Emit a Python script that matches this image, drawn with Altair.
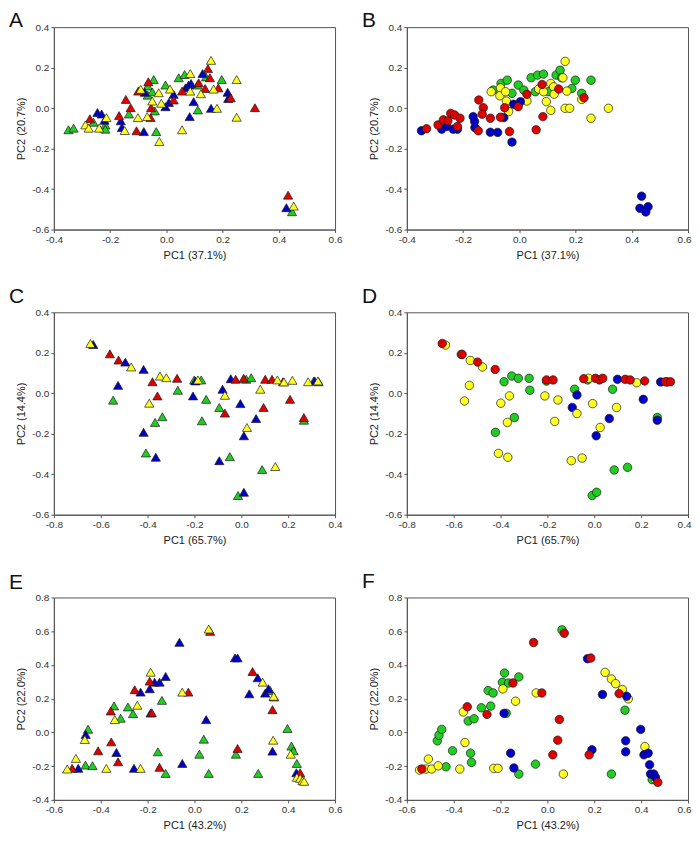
import altair as alt
import pandas as pd

# ---------------- data ----------------
COLOR_NAMES = ["green", "blue", "red", "yellow"]
COLOR_HEX = ["#22cc22", "#0000c8", "#e00000", "#ffff22"]

A_GREEN = [(-0.348,-0.107),(-0.330,-0.099),(-0.259,-0.070),(-0.217,-0.083),(-0.217,-0.104),(-0.133,-0.029),(-0.045,0.141),(-0.066,0.109),(-0.066,0.064),(-0.050,0.080),(-0.041,-0.014),(-0.036,-0.116),(-0.003,0.114),(0.044,0.150),(0.065,0.166),(0.112,-0.009),(0.141,0.154),(0.197,0.141),(0.111,0.114),(0.447,-0.512)]
A_BLUE = [(-0.245,-0.022),(-0.230,-0.029),(-0.220,-0.060),(-0.162,-0.063),(-0.158,-0.096),(-0.080,-0.116),(-0.077,0.078),(-0.003,0.007),(0.009,0.028),(0.026,0.068),(0.068,0.100),(0.079,0.114),(0.088,0.122),(0.097,0.032),(0.083,-0.042),(0.129,0.171),(0.159,-0.001),(0.218,0.078),(0.220,0.048),(0.427,-0.492)]
A_RED = [(-0.272,-0.053),(-0.144,0.043),(-0.127,0.002),(-0.168,-0.037),(-0.106,-0.112),(-0.100,0.084),(-0.064,0.130),(-0.056,-0.047),(-0.054,0.002),(0.026,0.040),(0.056,0.084),(0.115,0.125),(0.148,0.195),(0.138,0.097),(0.155,0.150),(0.185,0.100),(0.229,0.051),(0.315,0.002),(0.433,-0.430)]
A_YELLOW = [(-0.288,-0.083),(-0.276,-0.099),(-0.239,-0.099),(-0.213,-0.047),(-0.148,-0.111),(-0.101,-0.047),(-0.091,0.093),(-0.068,-0.042),(-0.050,0.035),(-0.027,0.076),(-0.018,0.024),(-0.025,-0.165),(0.013,0.094),(0.056,-0.107),(0.085,0.171),(0.085,0.084),(0.123,0.071),(0.159,0.236),(0.168,0.094),(0.180,-0.001),(0.250,0.141),(0.250,-0.045),(0.453,-0.484)]

B_BLUE = [(-0.348,-0.112),(-0.276,-0.104),(-0.258,-0.091),(-0.235,-0.104),(-0.220,-0.104),(-0.164,-0.042),(-0.159,-0.066),(-0.158,-0.096),(-0.103,-0.119),(-0.077,-0.120),(-0.055,-0.047),(-0.026,-0.168),(-0.020,0.019),(0.004,0.032),(0.435,-0.435),(0.429,-0.495),(0.458,-0.487),(0.450,-0.513)]
B_RED = [(-0.330,-0.102),(-0.289,-0.083),(-0.270,-0.058),(-0.254,-0.063),(-0.244,-0.026),(-0.230,-0.034),(-0.211,-0.050),(-0.220,-0.091),(-0.144,0.040),(-0.128,0.002),(-0.132,-0.030),(-0.146,-0.112),(-0.103,-0.050),(-0.067,-0.045),(-0.052,0.002),(-0.035,-0.116),(-0.004,0.007),(0.027,0.068),(0.060,-0.107),(0.084,-0.042),(0.081,0.117),(0.140,0.094),(0.230,0.051)]
B_GREEN = [(-0.093,0.089),(-0.065,0.122),(-0.043,0.138),(-0.026,0.073),(-0.004,0.114),(0.016,0.089),(0.042,0.150),(0.065,0.163),(0.086,0.168),(0.057,0.081),(0.104,0.081),(0.131,0.163),(0.145,0.187),(0.151,0.150),(0.187,0.097),(0.199,0.138),(0.222,0.073),(0.255,0.138)]
B_YELLOW = [(-0.100,0.081),(-0.067,0.100),(-0.069,0.061),(-0.049,0.081),(-0.046,0.035),(-0.038,-0.017),(0.027,0.035),(0.069,0.094),(0.086,0.081),(0.096,0.032),(0.112,-0.011),(0.112,0.122),(0.122,0.105),(0.124,0.069),(0.155,0.150),(0.163,0.231),(0.163,-0.001),(0.169,0.084),(0.179,-0.001),(0.222,0.043),(0.255,-0.050),(0.317,-0.001)]

C_YELLOW = [(-0.644,0.246),(-0.470,0.130),(-0.347,0.085),(-0.320,0.077),(-0.393,-0.049),(-0.185,0.066),(-0.070,-0.010),(0.024,-0.169),(0.081,0.020),(0.154,0.066),(0.182,0.056),(0.218,0.064),(0.145,-0.362),(0.285,0.057),(0.327,0.061)]
C_BLUE = [(-0.632,0.241),(-0.495,0.154),(-0.526,0.039),(-0.417,0.118),(-0.417,-0.193),(-0.365,-0.316),(-0.196,0.061),(-0.206,-0.013),(-0.080,0.020),(-0.004,-0.051),(0.011,-0.210),(0.063,-0.125),(-0.045,0.072),(-0.094,-0.333),(0.011,-0.489),(0.313,0.061)]
C_RED = [(-0.561,0.195),(-0.524,0.164),(-0.379,0.057),(-0.358,-0.013),(-0.274,0.074),(-0.070,-0.098),(-0.024,0.069),(0.010,0.074),(0.102,0.069),(0.131,0.069),(0.178,0.057),(0.208,-0.030),(0.095,-0.070),(0.267,-0.120)]
C_GREEN = [(-0.547,-0.034),(-0.368,-0.144),(-0.337,-0.116),(-0.407,-0.295),(-0.271,0.015),(-0.201,0.066),(-0.171,0.066),(-0.150,-0.030),(-0.168,-0.136),(-0.094,-0.070),(-0.049,-0.313),(-0.014,-0.505),(0.021,0.069),(0.042,0.077),(0.089,-0.377),(0.267,-0.133),(0.309,0.061),(0.330,0.057)]

D_GREEN = [(-0.568,0.192),(-0.385,0.057),(-0.352,0.085),(-0.324,0.074),(-0.278,0.074),(-0.275,0.015),(-0.422,-0.193),(-0.341,-0.120),(-0.084,0.020),(-0.028,0.066),(0.078,0.020),(0.269,-0.120),(-0.009,-0.505),(0.010,-0.489),(0.085,-0.379),(0.142,-0.366),(-0.204,0.060)]
D_BLUE = [(-0.094,-0.070),(-0.074,-0.008),(0.008,-0.210),(0.064,-0.125),(0.099,0.069),(0.209,-0.030),(0.269,-0.133),(0.283,0.056),(0.311,0.056)]
D_YELLOW = [(-0.635,0.238),(-0.529,0.162),(-0.477,0.130),(-0.533,0.039),(-0.554,-0.038),(-0.399,-0.049),(-0.362,-0.013),(-0.371,-0.144),(-0.409,-0.297),(-0.369,-0.316),(-0.211,-0.013),(-0.155,-0.033),(-0.169,-0.139),(-0.074,-0.100),(-0.098,-0.333),(-0.052,-0.320),(-0.024,0.074),(-0.007,-0.051),(0.025,-0.169),(0.095,-0.070),(0.181,0.052)]
D_RED = [(-0.649,0.246),(-0.564,0.192),(-0.498,0.154),(-0.423,0.118),(-0.204,0.066),(-0.176,0.066),(-0.045,0.072),(0.005,0.074),(0.022,0.066),(0.036,0.074),(0.132,0.069),(0.153,0.066),(0.215,0.061),(0.304,0.057),(0.325,0.057)]

E_GREEN = [(-0.465,-0.194),(-0.454,0.019),(-0.435,-0.197),(-0.343,0.157),(-0.315,0.084),(-0.284,0.151),(-0.262,0.111),(-0.139,0.190),(-0.156,-0.115),(-0.123,-0.243),(0.021,-0.129),(0.040,-0.040),(0.061,-0.243),(0.177,-0.129),(0.272,-0.243),(0.323,0.249),(0.397,0.023),(0.414,-0.081),(0.423,-0.109),(0.437,-0.184)]
E_BLUE = [(-0.496,-0.213),(-0.464,-0.012),(-0.333,-0.119),(-0.258,-0.213),(-0.230,0.239),(-0.191,0.259),(-0.187,0.115),(-0.170,0.298),(-0.149,0.298),(-0.123,0.332),(-0.064,0.534),(-0.052,-0.184),(0.050,0.076),(0.173,0.442),(0.184,0.442),(0.234,0.229),(0.270,0.324),(0.302,0.233),(0.316,0.259),(0.333,-0.111),(0.435,-0.239)]
E_RED = [(-0.522,-0.213),(-0.411,-0.109),(-0.355,-0.056),(-0.357,0.127),(-0.326,-0.174),(-0.255,0.253),(-0.191,0.304),(-0.182,0.117),(-0.149,-0.207),(-0.026,0.239),(0.067,0.599),(0.184,-0.095),(0.248,0.361),(0.333,0.135),(0.340,0.210),(0.451,-0.239)]
E_YELLOW = [(-0.543,-0.217),(-0.506,-0.154),(-0.468,-0.042),(-0.376,-0.213),(-0.340,0.076),(-0.244,0.161),(-0.230,-0.213),(-0.187,0.357),(-0.052,0.239),(0.061,0.613),(0.291,0.298),(0.338,0.214),(0.336,-0.046),(0.411,-0.129),(0.437,-0.266),(0.451,-0.272),(0.461,-0.286),(0.468,-0.290)]

F_GREEN = [(-0.470,-0.050),(-0.463,-0.017),(-0.451,0.018),(-0.433,-0.204),(-0.405,-0.109),(-0.338,0.068),(-0.313,0.081),(-0.328,-0.123),(-0.324,-0.178),(-0.282,0.146),(-0.253,0.248),(-0.242,0.156),(-0.232,0.234),(-0.192,0.297),(-0.183,0.352),(-0.166,0.293),(-0.122,0.329),(-0.176,0.113),(-0.051,-0.188),(-0.122,-0.247),(0.062,0.608),(0.273,-0.247),(0.331,0.132),(0.447,-0.280)]
F_BLUE = [(-0.185,0.113),(-0.157,-0.123),(-0.143,-0.211),(0.171,0.437),(0.190,-0.103),(0.235,0.225),(0.338,0.215),(0.334,-0.050),(0.334,-0.115),(0.398,0.018),(0.412,-0.133),(0.430,-0.123),(0.436,-0.192),(0.440,-0.247),(0.454,-0.247),(0.461,-0.266)]
F_YELLOW = [(-0.546,-0.223),(-0.508,-0.158),(-0.518,-0.217),(-0.494,-0.217),(-0.466,-0.198),(-0.374,-0.217),(-0.352,-0.060),(-0.359,0.121),(-0.229,-0.213),(-0.211,-0.213),(-0.190,0.258),(-0.136,0.185),(-0.048,0.234),(0.068,-0.247),(0.246,0.356),(0.273,0.317),(0.291,0.289),(0.320,0.254),(0.345,0.199),(0.416,-0.084),(0.461,-0.280)]
F_RED = [(-0.536,-0.217),(-0.342,0.152),(-0.258,0.107),(-0.147,0.293),(-0.059,0.533),(-0.024,0.234),(0.023,-0.133),(0.044,-0.046),(0.051,0.077),(0.072,0.588),(0.178,-0.133),(0.185,0.441),(0.306,0.230),(0.471,-0.296)]

X_TICKS_AB = [-0.4, -0.2, 0.0, 0.2, 0.4, 0.6]
Y_TICKS_AB = [-0.6, -0.4, -0.2, 0.0, 0.2, 0.4]
X_TICKS_CD = [-0.8, -0.6, -0.4, -0.2, 0.0, 0.2, 0.4]
Y_TICKS_CD = [-0.6, -0.4, -0.2, 0.0, 0.2, 0.4]
X_TICKS_EF = [-0.6, -0.4, -0.2, 0.0, 0.2, 0.4, 0.6]
Y_TICKS_EF = [-0.4, -0.2, 0.0, 0.2, 0.4, 0.6, 0.8]

TITLES = {
    "AB": ("PC1 (37.1%)", "PC2 (20.7%)"),
    "CD": ("PC1 (65.7%)", "PC2 (14.4%)"),
    "EF": ("PC1 (43.2%)", "PC2 (22.0%)"),
}

PW, PH = 282, 203
FONT = "Liberation Sans"
LABEL_EXPR = "replace(format(datum.value, '.1f'), '\u2212', '-')"


def panel(letter, series, shape, size, xticks, yticks, titles, letter_dy, last_off):
    rows = []
    for cname, pts in series:
        for x, y in pts:
            rows.append({"x": x, "y": y, "c": cname})
    df = pd.DataFrame(rows)
    df["i"] = range(len(df))
    x_off = {"condition": {"test": f"datum.value > {xticks[-1] - 0.05}", "value": last_off},
             "value": 0}
    pts = alt.Chart(df).mark_point(
        shape=shape, filled=True, size=size, stroke="#1a1a1a",
        strokeWidth=0.7, opacity=1
    ).encode(
        x=alt.X("x:Q", scale=alt.Scale(domain=[xticks[0], xticks[-1]], nice=False, zero=False),
                axis=alt.Axis(values=xticks, labelExpr=LABEL_EXPR, title=titles[0],
                              titlePadding=5, labelOffset=x_off)),
        y=alt.Y("y:Q", scale=alt.Scale(domain=[yticks[0], yticks[-1]], nice=False, zero=False),
                axis=alt.Axis(values=yticks, labelExpr=LABEL_EXPR, title=titles[1],
                              titlePadding=5)),
        fill=alt.Fill("c:N", scale=alt.Scale(domain=COLOR_NAMES, range=COLOR_HEX), legend=None),
        order=alt.Order("i:Q"),
    )
    lab = alt.Chart(pd.DataFrame({"t": [letter]})).mark_text(
        font=FONT, fontSize=21, align="left", baseline="top", color="#111111"
    ).encode(text="t:N", x=alt.value(-45), y=alt.value(letter_dy))
    return alt.layer(pts, lab).properties(width=PW, height=PH)


A = panel("A", [("green", A_GREEN), ("blue", A_BLUE), ("red", A_RED), ("yellow", A_YELLOW)],
          "triangle-up", 85, X_TICKS_AB, Y_TICKS_AB, TITLES["AB"], -17, 0)
B = panel("B", [("green", B_GREEN), ("yellow", B_YELLOW), ("blue", B_BLUE), ("red", B_RED)],
          "circle", 72, X_TICKS_AB, Y_TICKS_AB, TITLES["AB"], -17, -4)
C = panel("C", [("green", C_GREEN), ("blue", C_BLUE), ("red", C_RED), ("yellow", C_YELLOW)],
          "triangle-up", 85, X_TICKS_CD, Y_TICKS_CD, TITLES["CD"], -26, 0)
D = panel("D", [("green", D_GREEN), ("blue", D_BLUE), ("yellow", D_YELLOW), ("red", D_RED)],
          "circle", 72, X_TICKS_CD, Y_TICKS_CD, TITLES["CD"], -26, -4)
E = panel("E", [("green", E_GREEN), ("blue", E_BLUE), ("red", E_RED), ("yellow", E_YELLOW)],
          "triangle-up", 85, X_TICKS_EF, Y_TICKS_EF, TITLES["EF"], -26, 0)
F = panel("F", [("green", F_GREEN), ("yellow", F_YELLOW), ("blue", F_BLUE), ("red", F_RED)],
          "circle", 72, X_TICKS_EF, Y_TICKS_EF, TITLES["EF"], -27, -4)

chart = alt.concat(
    A, B, C, D, E, F, columns=2,
    spacing={"row": 83, "column": 72}, bounds="flush",
).properties(
    padding={"left": 0, "top": 0, "right": 0, "bottom": -2}
).configure_view(
    stroke="#555555", strokeWidth=1
).configure_axis(
    grid=False, domainColor="#555555", tickColor="#555555", tickSize=3,
    labelFont=FONT, labelFontSize=10, labelColor="#333333", labelPadding=2,
    labelFlush=False, labelOverlap=False, labelBound=False,
    titleFont=FONT, titleFontSize=11, titleFontWeight="normal", titleColor="#222222",
)

chart.save("out.html", embed_options={"renderer": "svg", "actions": False})
